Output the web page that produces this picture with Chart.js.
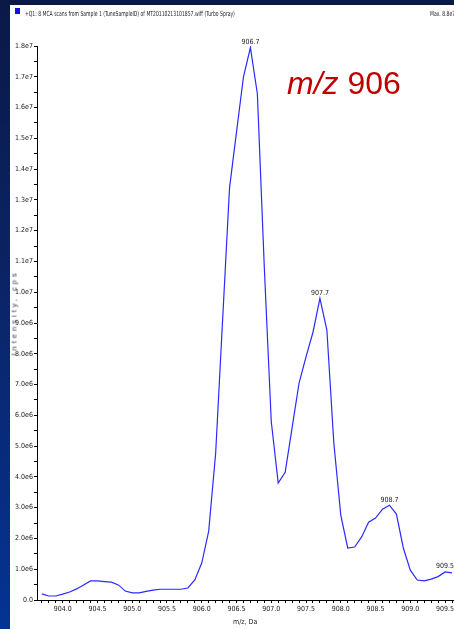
<!DOCTYPE html>
<html>
<head>
<meta charset="utf-8">
<script src="https://cdn.jsdelivr.net/npm/chart.js@4.4.0/dist/chart.umd.min.js"></script>
<style>
  html, body { margin: 0; padding: 0; }
  body {
    width: 454px; height: 629px; overflow: hidden; position: relative;
    background: linear-gradient(to bottom, #0a1946 0%, #0b2466 45%, #043394 100%);
    font-family: 'Liberation Sans Narrow', 'DejaVu Sans Condensed', 'Liberation Sans', sans-serif;
  }
  #panel { position: absolute; left: 10px; top: 5px; width: 460px; height: 640px; background: #fff; }
  #chartBox { position: absolute; left: 10px; top: 5px; }
  #square { position: absolute; left: 15px; top: 8px; width: 5px; height: 6px; background: #1010e0; }
  #header { position: absolute; left: 25px; top: 10px; font-size: 7px; color: #222; white-space: nowrap; transform-origin: 0 0; transform: scaleX(0.72); }
  #maxText { position: absolute; left: 430px; top: 10px; font-size: 7px; color: #222; white-space: nowrap; transform-origin: 0 0; transform: scaleX(0.72); }
  #yTitle { position: absolute; left: 14px; top: 313px; font-family: 'Liberation Sans', Arial, sans-serif; font-size: 8px; color: #444; letter-spacing: 2.8px; white-space: nowrap; transform: translate(-50%, -50%) rotate(-90deg); }
  #mz { position: absolute; left: 287px; top: 65px; font-family: 'Liberation Sans', Arial, sans-serif; font-size: 32px; color: #c00000; white-space: nowrap; }
</style>
</head>
<body>
<div id="panel"></div>
<div id="chartBox"><canvas id="myChart" width="444" height="624"></canvas></div>
<div id="square"></div>
<div id="header">+Q1: 8 MCA scans from Sample 1 (TuneSampleID) of MT20110213101857.wiff (Turbo Spray)</div>
<div id="maxText">Max. 8.8e7 cps.</div>
<div id="yTitle">Intensity, cps</div>
<div id="mz"><i>m/z</i> 906</div>
<script>
// m/z values (Da), one every 0.1 Da
const mz = [903.7, 903.8, 903.9, 904.0, 904.1, 904.2, 904.3, 904.4, 904.5, 904.6,
            904.7, 904.8, 904.9, 905.0, 905.1, 905.2, 905.3, 905.4, 905.5, 905.6,
            905.7, 905.8, 905.9, 906.0, 906.1, 906.2, 906.3, 906.4, 906.5, 906.6,
            906.7, 906.8, 906.9, 907.0, 907.1, 907.2, 907.3, 907.4, 907.5, 907.6,
            907.7, 907.8, 907.9, 908.0, 908.1, 908.2, 908.3, 908.4, 908.5, 908.6,
            908.7, 908.8, 908.9, 909.0, 909.1, 909.2, 909.3, 909.4, 909.5, 909.6];
// intensity, cps
const intensity = [2.0e5, 1.3e5, 1.3e5, 1.9e5, 2.6e5, 3.6e5, 4.9e5, 6.2e5, 6.2e5, 6.0e5,
                   5.8e5, 4.9e5, 2.9e5, 2.3e5, 2.3e5, 2.8e5, 3.2e5, 3.5e5, 3.5e5, 3.5e5,
                   3.5e5, 3.9e5, 6.5e5, 1.2e6, 2.24e6, 4.77e6, 9.1e6, 1.34e7, 1.52e7, 1.70e7,
                   1.795e7, 1.645e7, 1.08e7, 5.8e6, 3.8e6, 4.15e6, 5.6e6, 7.05e6, 7.9e6, 8.7e6,
                   9.8e6, 8.77e6, 5.1e6, 2.76e6, 1.69e6, 1.72e6, 2.05e6, 2.53e6, 2.66e6, 2.95e6,
                   3.08e6, 2.79e6, 1.69e6, 9.7e5, 6.5e5, 6.2e5, 6.8e5, 7.6e5, 9.1e5, 8.8e5];
// labelled peaks
const peakLabels = ['906.7', '907.7', '908.7', '909.5'];

const tickFont = { family: "'Liberation Sans Narrow', 'DejaVu Sans Condensed', sans-serif", size: 7 };

const peakLabelPlugin = {
    id: 'peakLabels',
    afterDatasetsDraw(chart) {
        const ctx = chart.ctx;
        const xs = chart.scales.x, ys = chart.scales.y;
        ctx.save();
        ctx.font = "7px 'Liberation Sans Narrow', 'DejaVu Sans Condensed', sans-serif";
        ctx.fillStyle = '#222';
        ctx.textAlign = 'center';
        ctx.textBaseline = 'bottom';
        peakLabels.forEach(lbl => {
            const i = mz.findIndex(v => v.toFixed(1) === lbl);
            if (i < 0) return;
            ctx.fillText(lbl, xs.getPixelForValue(mz[i]), ys.getPixelForValue(intensity[i]) - 2);
        });
        ctx.restore();
    }
};

const data = {
    datasets: [{
        data: mz.map((m, i) => ({ x: m, y: intensity[i] })),
        borderColor: '#2a2aff',
        borderWidth: 1.2,
        pointRadius: 0,
        tension: 0,
        fill: false
    }]
};

const config = {
    type: 'line',
    data: data,
    options: {
        responsive: false,
        animation: false,
        devicePixelRatio: 1,
        layout: { autoPadding: false, padding: { top: 41, right: 0, bottom: 0, left: 0 } },
        plugins: { legend: { display: false }, tooltip: { enabled: false } },
        scales: {
            x: {
                type: 'linear',
                min: 903.63,
                max: 909.62,
                afterFit: s => { s.height = 29; },
                border: { color: '#000', width: 1 },
                grid: { drawOnChartArea: false, drawTicks: true, tickLength: 3, color: '#000' },
                ticks: {
                    stepSize: 0.1,
                    autoSkip: false,
                    includeBounds: false,
                    maxRotation: 0,
                    padding: 2,
                    color: '#222',
                    font: tickFont,
                    callback: v => (Math.round(v * 10) % 5 === 0 ? v.toFixed(1) : '')
                },
                title: { display: true, text: 'm/z, Da', color: '#222', font: tickFont, padding: { top: 0, bottom: 3 } }
            },
            y: {
                min: 0,
                max: 1.8e7,
                afterFit: s => { s.width = 27; },
                border: { color: '#000', width: 1 },
                grid: { drawOnChartArea: false, drawTicks: true, tickLength: 3, color: '#000' },
                ticks: {
                    stepSize: 5e5,
                    autoSkip: false,
                    padding: 1,
                    color: '#222',
                    font: tickFont,
                    callback: v => {
                        if (v === 0) return '0.0';
                        if (Math.round(v / 5e5) % 2 !== 0) return '';
                        return v >= 1e7 ? (v / 1e7).toFixed(1) + 'e7' : (v / 1e6).toFixed(1) + 'e6';
                    }
                }
            }
        }
    },
    plugins: [peakLabelPlugin]
};

const myChart = new Chart(document.getElementById('myChart'), config);
</script>
</body>
</html>
